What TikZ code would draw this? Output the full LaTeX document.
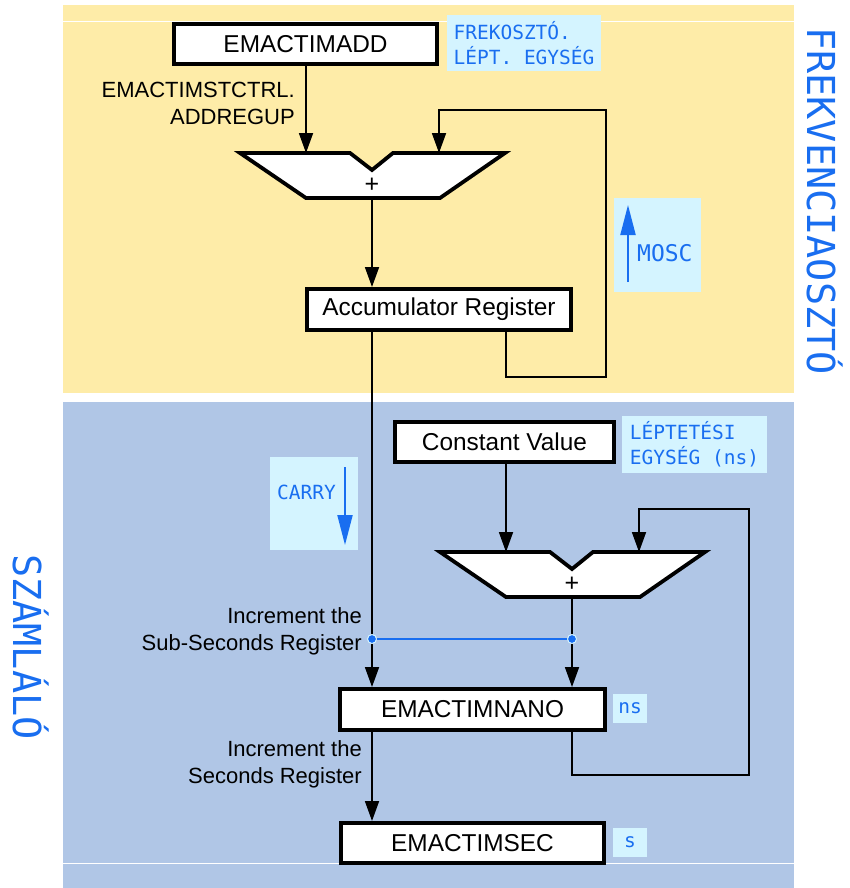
\documentclass[tikz,border=0pt]{standalone}
\usepackage{fontspec}
\setmainfont{Liberation Sans}
\newfontfamily\monofam{DejaVu Sans Mono}
\usetikzlibrary{arrows.meta,calc}
\definecolor{ybg}{RGB}{254,236,168}
\definecolor{bbg}{RGB}{176,198,230}
\definecolor{cyanbox}{RGB}{212,244,255}
\definecolor{txtblue}{RGB}{25,110,240}
\begin{document}
\begin{tikzpicture}[x=1pt,y=-1pt,
  regbox/.style={draw=black, line width=3.6pt, fill=white, inner sep=0pt, font=\fontsize{24.4}{28}\selectfont},
  lbl/.style={font=\fontsize{22}{27}\selectfont, align=right, anchor=east, inner sep=0pt},
  tag/.style={fill=cyanbox, inner sep=0pt, text=txtblue, font=\monofam\fontsize{19.5}{25}\selectfont, align=left},
  sidetxt/.style={text=txtblue, font=\monofam\fontsize{38.5}{40}\selectfont, rotate=-90, anchor=base, inner sep=0pt},
  conn/.style={line width=1.8pt, draw=black},
  arr/.style={conn, -{Triangle[length=20pt,width=14pt]}},
  bluearr/.style={line width=2pt, draw=txtblue, -{Triangle[length=30pt,width=15pt]}},
  blueline/.style={line width=1.6pt, draw=txtblue},
  bdot/.style={circle, fill=txtblue, draw=cyanbox, line width=1pt, minimum size=9pt, inner sep=0pt},
  adder/.pic={
    \draw[line width=3.8pt, fill=white, line join=miter] (-132,0) -- (-22,0) -- (0,17) -- (21,0) -- (133,0) -- (68,45) -- (-66,45) -- cycle;
    \node[font=\fontsize{25}{28}\selectfont, inner sep=0pt] (-plus) at (0,32) {+};
    \coordinate (-in1) at (-66,0);
    \coordinate (-in2) at (67,0);
    \coordinate (-out) at (0,45);
  }]
\useasboundingbox (0,0) rectangle (849,888);
% backgrounds
\fill[ybg] (63,5) rectangle (794,393);
\fill[bbg] (63,402) rectangle (794,888);
\draw[white, line width=1pt] (63,22) -- (794,22);
\draw[white, line width=1pt] (63,863) -- (794,863);

% side titles
\node[sidetxt] (tfrek) at (807,201) {FREKVENCIAOSZTÓ};
\node[sidetxt] (tszam) at (13,647) {SZÁMLÁLÓ};

% tag boxes
\node[tag, minimum width=154pt, minimum height=56pt] (tfreko) at (524,43.5) {FREKOSZTÓ.\\LÉPT. EGYSÉG};
\node[tag, minimum width=145pt, minimum height=57pt] (tlept) at (694.5,444.5) {LÉPTETÉSI\\EGYSÉG (ns)};
\node[tag, minimum width=87pt, minimum height=94pt] (tmosc) at (657.5,245) {};
\node[tag, font=\monofam\fontsize{23}{25}\selectfont, anchor=west] (tmosctxt) at (637,253) {MOSC};
\coordinate (moscb) at (628,282);
\coordinate (mosct) at (628,205);
\draw[bluearr] (moscb) -- (mosct);
\node[tag, minimum width=88pt, minimum height=93pt] (tcarry) at (314,503.5) {};
\node[tag, anchor=west] (tcarrytxt) at (277,492) {CARRY};
\coordinate (carryt) at (345,467);
\coordinate (carryb) at (345,545);
\draw[bluearr] (carryt) -- (carryb);
\node[tag, minimum width=34pt, minimum height=29pt] (tns) at (630,708.5) {ns};
\node[tag, minimum width=34pt, minimum height=29pt] (ts) at (630,842) {s};

% register boxes
\node[regbox, minimum width=263.4pt, minimum height=40.4pt] (madd) at (305.5,44) {EMACTIMADD};
\node[regbox, minimum width=264.4pt, minimum height=41.4pt] (acc) at (439,309.5) {Accumulator Register};
\node[regbox, minimum width=219.4pt, minimum height=40.4pt] (const) at (504.5,442) {Constant Value};
\node[regbox, minimum width=265.4pt, minimum height=41.4pt] (nano) at (472.5,709.5) {EMACTIMNANO};
\node[regbox, minimum width=263.4pt, minimum height=40.4pt] (sec) at (472.5,843) {EMACTIMSEC};

% adders
\pic (add1) at (372,153) {adder};
\pic (add2) at (572,552) {adder};

% labels
\node[lbl] (lctrl) at (295,103.5) {EMACTIMSTCTRL.\\ADDREGUP};
\node[lbl] (lsub) at (362,631.5) {Increment the\\Sub-Seconds Register};
\node[lbl] (lsec) at (362,764.5) {Increment the\\Seconds Register};

% helper coordinates
\coordinate (fb1) at (506,377);
\coordinate (fb1r) at (606,110);
\coordinate (fb2) at (572,775);
\coordinate (fb2r) at (749,509);
\coordinate (d1) at (372,639);
\coordinate (d2) at (572,639);

% connectors
\draw[arr] (madd.south -| add1-in1) -- (add1-in1);
\draw[arr] (add1-out) -- (acc.north -| add1-out);
\draw[arr] (acc.south -| fb1) -- (fb1) -| (fb1r) -| (add1-in2);
\draw[arr] (acc.south -| d1) -- (nano.north -| d1);
\draw[arr] (const.south -| add2-in1) -- (add2-in1);
\draw[arr] (add2-out) -- (nano.north -| add2-out);
\draw[arr] (nano.south -| fb2) -- (fb2) -| (fb2r) -| (add2-in2);
\draw[arr] (nano.south -| d1) -- (sec.north -| d1);
\draw[blueline] (d1) -- (d2);
\node[bdot] (dot1) at (d1) {};
\node[bdot] (dot2) at (d2) {};
\end{tikzpicture}
\end{document}
